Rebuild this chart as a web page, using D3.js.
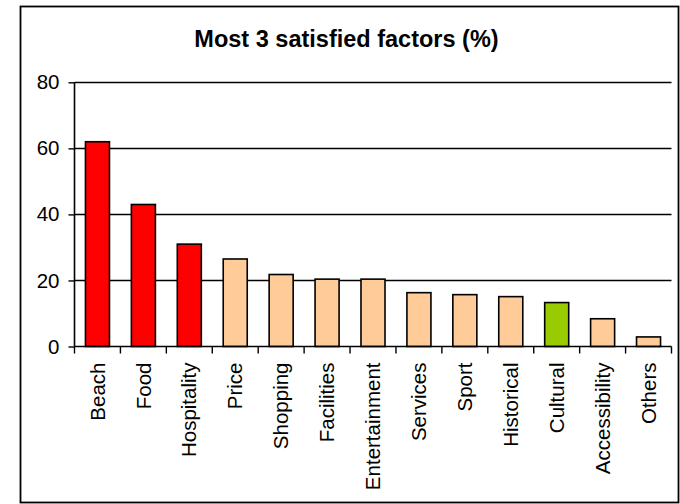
<!DOCTYPE html>
<html>
<head>
<meta charset="utf-8">
<script src="https://cdn.jsdelivr.net/npm/d3@7"></script>
<style>
  html, body { margin: 0; padding: 0; background: #fff; }
  svg { display: block; }
  text { font-family: "Liberation Sans", Arial, sans-serif; fill: #000; }
</style>
</head>
<body>
<div id="chart"></div>
<script>
const title = "Most 3 satisfied factors (%)";
const categories = ["Beach", "Food", "Hospitality", "Price", "Shopping", "Facilities", "Entertainment", "Services", "Sport", "Historical", "Cultural", "Accessibility", "Others"];
const values = [62, 43, 31, 26.5, 21.8, 20.4, 20.4, 16.3, 15.7, 15.1, 13.3, 8.4, 2.9];
const barGroup = ["top", "top", "top", "other", "other", "other", "other", "other", "other", "other", "cultural", "other", "other"];
const yTicks = [0, 20, 40, 60, 80];

const colorOf = { top: "#FF0000", other: "#FFCC99", cultural: "#99CC00" };

const W = 680, H = 504;
const plot = { left: 74.5, right: 671.5, top: 82.3, bottom: 346.5 };

const svg = d3.select("#chart").append("svg").attr("width", W).attr("height", H);

// chart frame
svg.append("rect")
  .attr("x", 20.5).attr("y", 6.5)
  .attr("width", 658).attr("height", 496)
  .attr("fill", "none").attr("stroke", "#000").attr("stroke-width", 1.8);

// title
svg.append("text")
  .attr("x", 346.5).attr("y", 47)
  .attr("text-anchor", "middle")
  .style("font-weight", "bold").style("font-size", "23.5px")
  .text(title);

const x = d3.scaleBand().domain(categories).range([plot.left, plot.right]).padding(0);
const r = 0.523;
const xBar = d3.scaleBand().domain(categories).range([plot.left, plot.right])
  .paddingInner(1 - r).paddingOuter((1 - r) / 2);
const y = d3.scaleLinear().domain([0, 80]).range([plot.bottom, plot.top]);

// gridlines
svg.append("g").selectAll("line")
  .data(yTicks.filter(d => d > 0))
  .join("line")
  .attr("x1", plot.left).attr("x2", plot.right)
  .attr("y1", d => Math.round(y(d)) + 0.5).attr("y2", d => Math.round(y(d)) + 0.5)
  .attr("stroke", "#000").attr("stroke-width", 1.4);

// bars
svg.append("g").selectAll("rect")
  .data(categories)
  .join("rect")
  .attr("x", d => xBar(d))
  .attr("width", xBar.bandwidth())
  .attr("y", (d, i) => y(values[i]))
  .attr("height", (d, i) => y(0) - y(values[i]))
  .attr("fill", (d, i) => colorOf[barGroup[i]])
  .attr("stroke", "#000").attr("stroke-width", 1.6);

// y axis
const yAxis = d3.axisLeft(y).tickValues(yTicks).tickSize(6).tickPadding(9);
const gy = svg.append("g").attr("transform", `translate(${plot.left},0)`).call(yAxis);
gy.select(".domain").attr("stroke", "#000").attr("stroke-width", 1.6).attr("d", `M0,${plot.top}V${plot.bottom}`);
gy.selectAll(".tick line").attr("stroke", "#000").attr("stroke-width", 1.4);
gy.selectAll(".tick text").style("font-size", "20.5px").style("font-family", "'Liberation Sans', Arial, sans-serif").attr("fill", "#000");

// x axis
const xAxis = d3.axisBottom(x).tickSize(0).tickFormat(d => d);
const gx = svg.append("g").attr("transform", `translate(0,${plot.bottom})`).call(xAxis);
gx.select(".domain").attr("stroke", "#000").attr("stroke-width", 1.6).attr("d", `M${plot.left},0H${plot.right}`);
gx.selectAll(".tick line").remove();
gx.selectAll(".tick text")
  .attr("transform", "rotate(-90)")
  .attr("x", -16).attr("y", 0).attr("dy", "0.35em")
  .attr("text-anchor", "end")
  .style("font-size", "20.5px").style("font-family", "'Liberation Sans', Arial, sans-serif").attr("fill", "#000");

// x band-boundary ticks
const bounds = categories.map(c => x(c)).concat([plot.right]);
svg.append("g").selectAll("line")
  .data(bounds)
  .join("line")
  .attr("x1", d => d).attr("x2", d => d)
  .attr("y1", plot.bottom).attr("y2", plot.bottom + 7)
  .attr("stroke", "#000").attr("stroke-width", 1.4);
</script>
</body>
</html>
